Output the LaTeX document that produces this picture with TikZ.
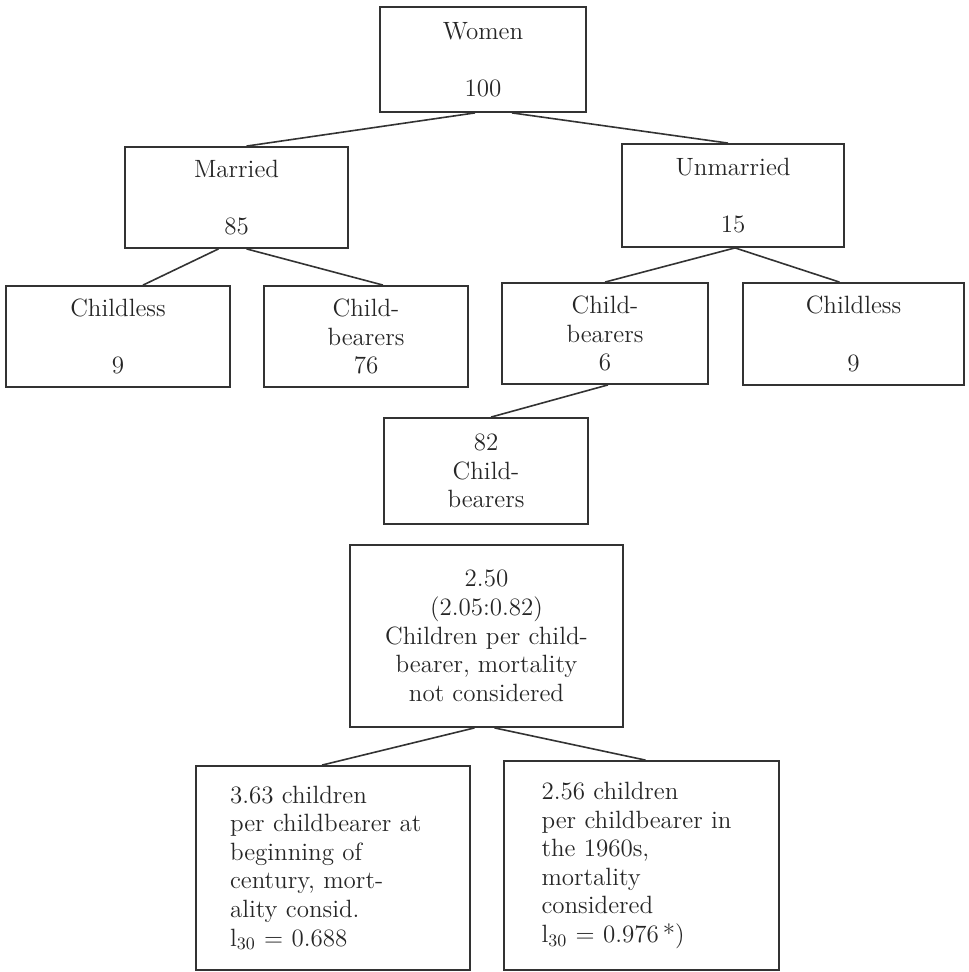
\documentclass[tikz,border=0pt]{standalone}
\usepackage{tikz}
\tikzset{box node/.style={rectangle,draw=black!80,line width=0.9pt,align=center,text=black!85,
		font=\fontsize{12.5}{14.3}\selectfont,inner sep=0pt},
	note node/.style={box node,align=left,text width=103pt},
}

\begin{document}
\begin{tikzpicture}[x=0.5pt,y=-0.5pt,-,line width=0.8pt,draw=black!80]
		\useasboundingbox (0,0) rectangle (968,972);
		
		\node[box node,minimum width=103pt,minimum height=52.5pt] (women) at (483,59.5) {Women\\~\\100};
		\node[box node,minimum width=111.5pt,minimum height=50.5pt] (married) at (236.5,197.5) {Married\\~\\85};
		\node[box node,minimum width=111pt,minimum height=51.5pt] (unmarried) at (733,195.5) {Unmarried\\~\\15};
		
		\node[box node,minimum width=112pt,minimum height=50.5pt] (childlessA) at (118,336.5) {Childless\\~\\9};
		\node[box node,minimum width=102pt,minimum height=50.5pt] (bearersA) at (366,336.5) {Child-\\bearers\\76};
		\node[box node,minimum width=103pt,minimum height=50.5pt] (bearersB) at (605,333.5) {Child-\\bearers\\6};
		\node[box node,minimum width=110.5pt,minimum height=51pt] (childlessB) at (853.5,334) {Childless\\~\\9};
		
		\node[box node,minimum width=102pt,minimum height=53pt] (total) at (486,471) {82\\Child-\\bearers};
		\node[box node,minimum width=136.5pt,minimum height=91pt] (rate) at (486.5,636)
		{2.50\\(2.05:0.82)\\Children per child-\\bearer, mortality\\not considered};
		
		\node[note node,minimum width=137pt,minimum height=102pt] (beginning) at (333,868)
		{3.63 children\\per childbearer at\\beginning of\\century, mort-\\ality consid.\\l\textsubscript{30} = 0.688};
		\node[note node,text width=100pt,minimum width=137.5pt,minimum height=104.5pt] (sixties) at (641.5,865.5)
		{2.56 children\\per childbearer in\\the 1960s,\\mortality\\considered\\l\textsubscript{30} = 0.976\,*)};
		
		\path
		([xshift=-4pt]women.south) edge ([xshift=5pt]married.north)
		([xshift=14.5pt]women.south) edge ([xshift=-2.5pt]unmarried.north)
		([xshift=-9pt]married.south) edge ([xshift=12.5pt]childlessA.north)
		([xshift=5pt]married.south) edge ([xshift=8.5pt]bearersA.north)
		([xshift=1pt]unmarried.south) edge (bearersB.north)
		([xshift=1pt]unmarried.south) edge ([xshift=-7pt]childlessB.north)
		([xshift=1.5pt]bearersB.south) edge ([xshift=2.5pt]total.north)
		([xshift=-6pt]rate.south) edge ([xshift=-5.5pt]beginning.north)
		([xshift=4pt]rate.south) edge ([xshift=2pt]sixties.north)
		;
\end{tikzpicture}
\end{document}
